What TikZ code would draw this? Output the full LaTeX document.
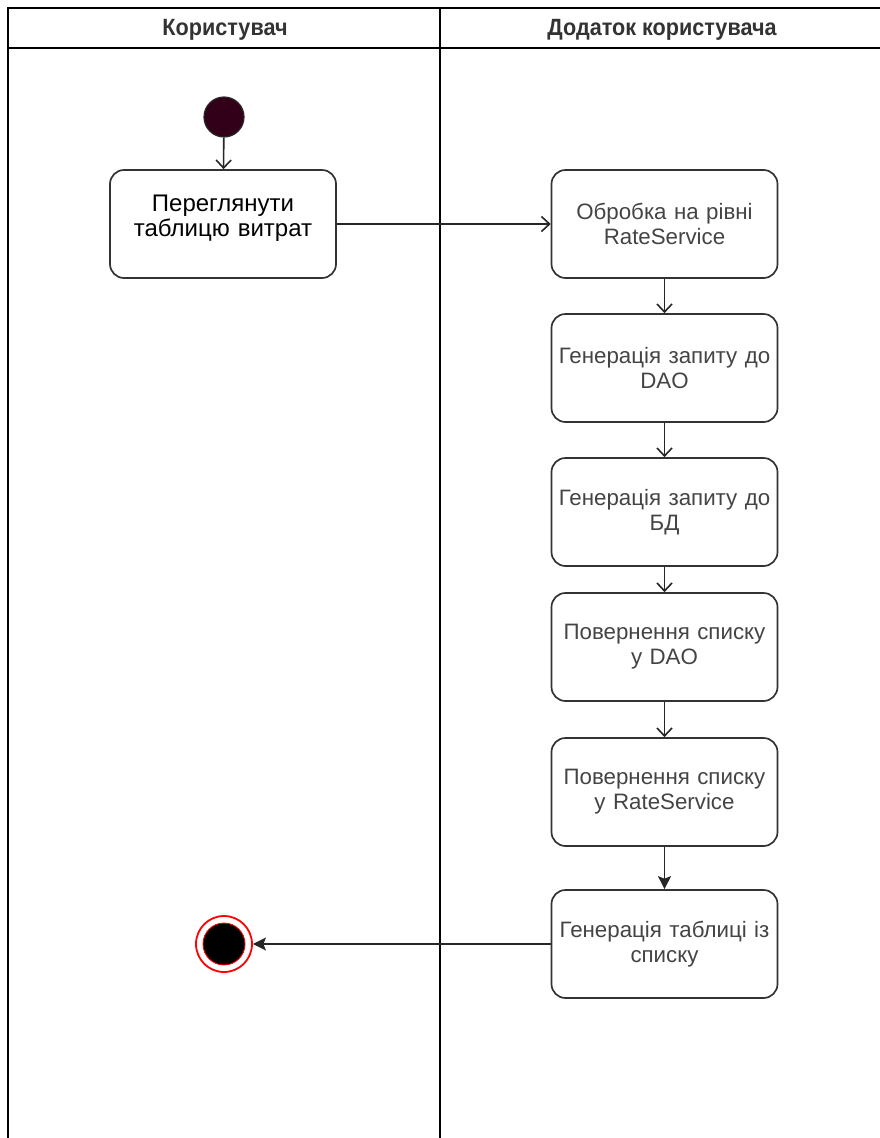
\documentclass[tikz,border=0pt]{standalone}
\usepackage{fontspec}
\setmainfont{Liberation Sans}
\newfontfamily\lanefont[FakeStretch=0.92]{Liberation Sans}
\usetikzlibrary{arrows.meta,positioning}

\definecolor{startfill}{HTML}{33001A}
\definecolor{boxtext}{HTML}{444444}

\begin{document}
\begin{tikzpicture}[x=1pt, y=-1pt, >=Latex,
  lane/.style={line width=1.7pt, black},
  lanetitle/.style={font=\lanefont\bfseries\fontsize{23.5}{25}\selectfont, text=black!80},
  act/.style={draw=black!80, line width=1.7pt, rounded corners=14pt, fill=white,
    minimum width=226pt, minimum height=108pt, text width=222pt, align=center,
    inner sep=0pt, font=\fontsize{22.3}{25}\selectfont, text=boxtext},
  flow/.style={-{Straight Barb[length=8pt,width=15pt,line width=1.6pt]}, line width=1.6pt, black!85},
  flowfill/.style={-{Stealth[length=13pt,width=13pt,inset=2.5pt]}, line width=1.6pt, black!85},
  startnode/.style={circle, draw=black!85, line width=1.2pt, fill=startfill, minimum size=40pt, inner sep=0pt},
  endouter/.style={circle, draw=red, line width=1.8pt, fill=white, minimum size=56pt, inner sep=0pt},
  endinner/.style={circle, draw=red, line width=0.9pt, fill=black, minimum size=42pt, inner sep=0pt}
]
  % рамка
  \useasboundingbox (0,0) rectangle (880,1138);

  % доріжки
  \draw[lane] (880,8) -- (8,8) -- (8,1138);
  \draw[lane] (8,48) -- (880,48);
  \draw[lane] (440,8) -- (440,1138);
  \node[lanetitle] (laneuser) at (225,30) {Користувач};
  \node[lanetitle] (laneapp) at (662,30) {Додаток користувача};

  % дії
  \node[startnode] (start) at (224,117) {};
  \node[act, text=black, font=\fontsize{24}{25}\selectfont] (view) at (223,224) {Переглянути\\таблицю витрат\\[-8pt]\mbox{}};
  \node[act] (rate) at (664.5,224) {Обробка на рівні\\RateService};
  \node[act] (qdao) at (664.5,368) {Генерація запиту до\\DAO};
  \node[act] (qdb) at (664.5,512) {Генерація запиту до\\БД};
  \node[act] (rdao) at (664.5,647) {Повернення списку\\у DAO};
  \node[act] (rrate) at (664.5,792) {Повернення списку\\у RateService};
  \node[act] (gen) at (664.5,944) {Генерація таблиці із\\списку};
  \node[endouter] (finish) at (224,944) {};
  \node[endinner] (finishin) at (finish) {};

  % переходи
  \draw[flow] (start) -- (view);
  \draw[flow] (view) -- (rate);
  \draw[flow] (rate) -- (qdao);
  \draw[flow] (qdao) -- (qdb);
  \draw[flow] (qdb) -- (rdao);
  \draw[flow] (rdao) -- (rrate);
  \draw[flowfill] (rrate) -- (gen);
  \draw[flowfill] (gen) -- (finish);
\end{tikzpicture}
\end{document}
